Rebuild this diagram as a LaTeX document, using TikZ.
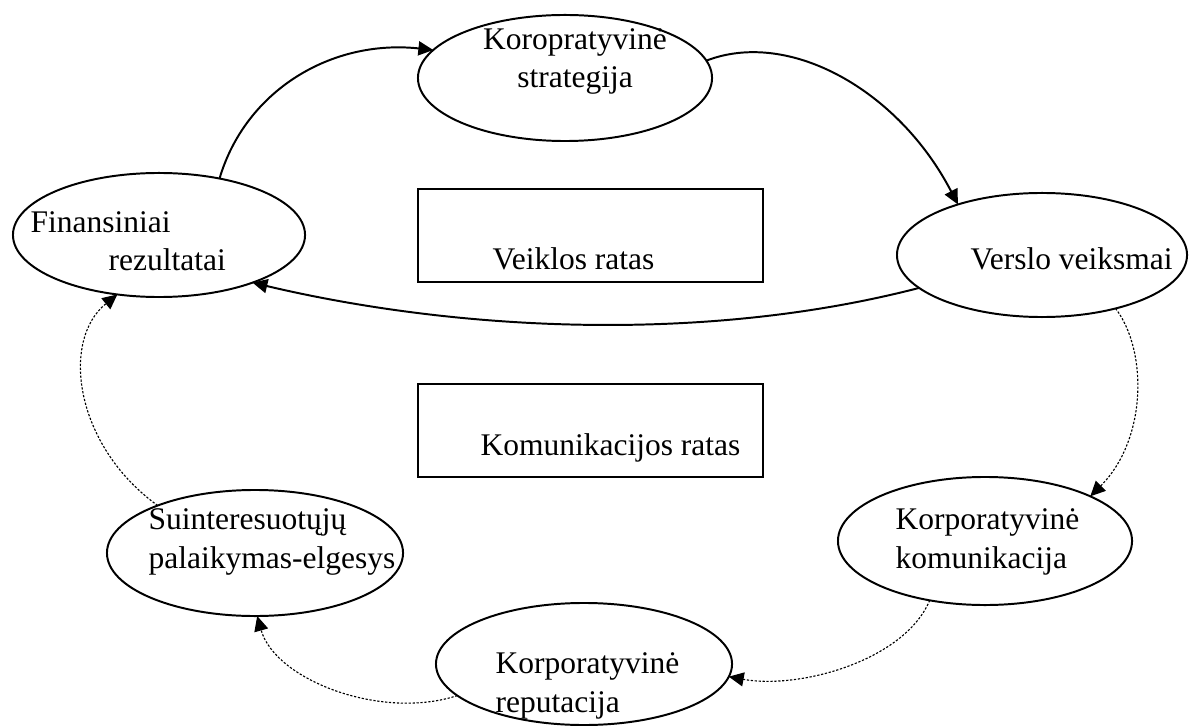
\documentclass[tikz,border=0pt]{standalone}
\usepackage{fontspec}
\setmainfont{Liberation Serif}
\usetikzlibrary{arrows.meta,shapes.geometric}

\begin{document}
\begin{tikzpicture}[x=0.0125cm,y=-0.0125cm,
 ovalbox/.style={draw,line width=0.7pt,ellipse,inner sep=0pt,outer sep=0pt},
 ratasbox/.style={draw,line width=0.7pt,inner sep=0pt,outer sep=0pt},
 labeltext/.style={inner sep=0pt,anchor=base west,align=left,font=\fontsize{11.2pt}{13.6pt}\selectfont},
 mainarrow/.style={-{Triangle[length=5.3pt,width=5pt]},line width=0.7pt},
 commarrow/.style={-{Triangle[length=5.3pt,width=5pt]},line width=0.4pt,dash pattern=on 0.8pt off 0.6pt}
]
\useasboundingbox (0,0) rectangle (1189,726);
% veiklos ratas
\node[ovalbox,minimum width=3.675cm,minimum height=1.575cm] (strategija) at (565,78) {};
\node[ovalbox,minimum width=3.625cm,minimum height=1.55cm] (veiksmai) at (1042,255) {};
\node[ovalbox,minimum width=3.65cm,minimum height=1.55cm] (rezultatai) at (159,235) {};
% komunikacijos ratas
\node[ovalbox,minimum width=3.675cm,minimum height=1.6cm] (komunikacija) at (985,541) {};
\node[ovalbox,minimum width=3.7cm,minimum height=1.525cm] (reputacija) at (584,664) {};
\node[ovalbox,minimum width=3.7cm,minimum height=1.575cm] (elgesys) at (255,553) {};
\node[ratasbox,minimum width=4.3125cm,minimum height=1.1625cm] (veikla) at (590.5,235.5) {};
\node[ratasbox,minimum width=4.3125cm,minimum height=1.1625cm] (komratas) at (590.5,430.5) {};
% texts (base = last line)
\node[labeltext,anchor=base,align=center] (strategijatxt) at (575,88) {Koropratyvinė\\strategija};
\node[labeltext] (veiksmaitxt) at (970,270) {Verslo veiksmai};
\node[labeltext] (rezultataitxt) at (30,271) {Finansiniai\\\hspace*{0.975cm}rezultatai};
\node[labeltext] (komunikacijatxt) at (895,568) {Korporatyvinė\\komunikacija};
\node[labeltext] (reputacijatxt) at (495,712) {Korporatyvinė\\reputacija};
\node[labeltext] (elgesystxt) at (148,568) {Suinteresuotųjų\\palaikymas-elgesys};
\node[labeltext] (veiklatxt) at (492,270) {Veiklos ratas};
\node[labeltext] (komratastxt) at (480,455) {Komunikacijos ratas};
% arrows
\draw[mainarrow] (rezultatai.43) .. controls +(26,-88) and +(-102,-11) .. (strategija.168);
\draw[mainarrow] (strategija.7) .. controls +(83,-32) and +(-59,-114) .. (veiksmai.149);
\draw[mainarrow] (veiksmai.195) .. controls +(-220,57) and +(198,47) .. (rezultatai.333);
\draw[commarrow] (veiksmai.324) .. controls +(32,42) and +(57,-57) .. (komunikacija.23);
\draw[commarrow] (komunikacija.227) .. controls +(-25,60) and +(71,13) .. (reputacija.355);
\draw[commarrow] (reputacija.194) .. controls +(-76,25) and +(18,64) .. (elgesys.272);
\draw[commarrow] (elgesys.154) .. controls +(-83,-60) and +(-57,46) .. (rezultatai.235);
\end{tikzpicture}
\end{document}
